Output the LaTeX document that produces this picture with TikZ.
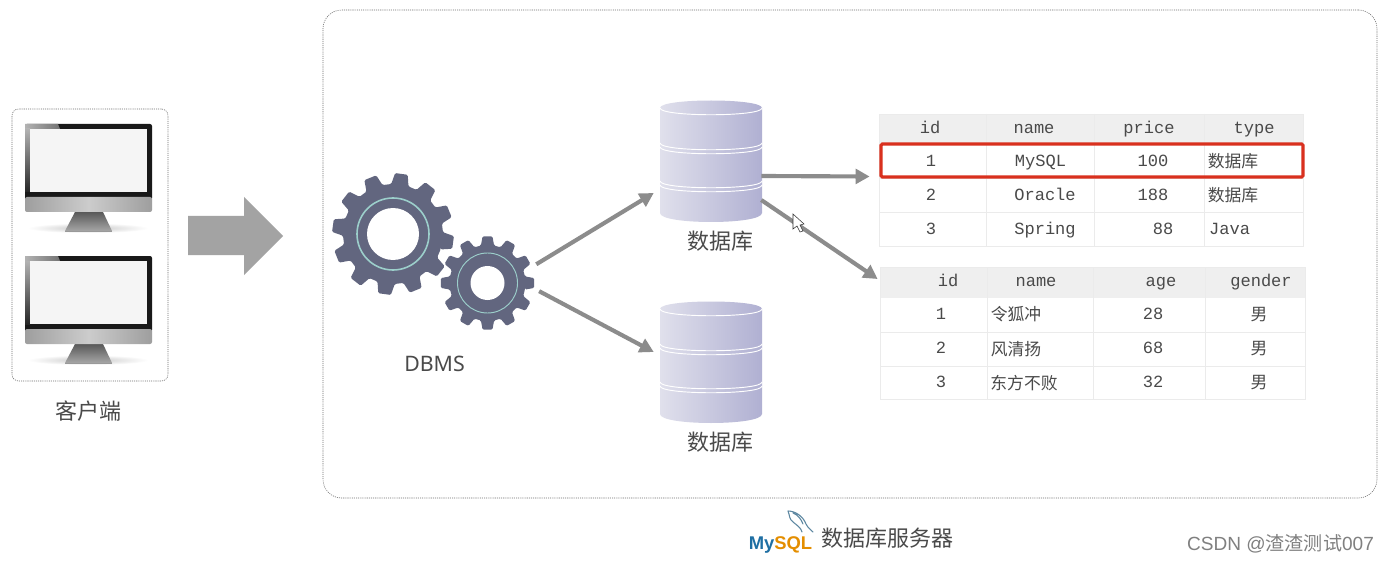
\documentclass[tikz,border=0pt]{standalone}
\usepackage{fontspec}
\usepackage[dvipsnames]{xcolor}
\usetikzlibrary{arrows.meta,fit,shapes.geometric}
\setmainfont{Noto Sans}
\setmonofont{Liberation Mono}
\newfontfamily\cjk{Noto Sans CJK SC}
\newfontfamily\logofont{Liberation Sans}
\definecolor{gearcolor}{HTML}{62667F}
\definecolor{ringcolor}{HTML}{9CCFCB}
\definecolor{linkcolor}{HTML}{8C8C8C}
\definecolor{textcolor}{HTML}{4A4A4A}
\definecolor{boxcolor}{HTML}{6E6E6E}
\definecolor{gridcolor}{HTML}{EBEBEB}
\definecolor{headcolor}{HTML}{EFEFEF}
\definecolor{hotcolor}{HTML}{D9301E}
\definecolor{dolphincolor}{HTML}{5D87A1}
\definecolor{sqlcolor}{HTML}{E48E00}
\definecolor{mycolor}{HTML}{1F6FA3}
\definecolor{dbleft}{HTML}{E0E0EC}
\definecolor{dbright}{HTML}{B0B0D2}
\tikzset{
    link/.style={linkcolor, line width=3.1pt, -{Triangle[length=10.5pt,width=11pt]}},
    dotbox/.style={draw=boxcolor, dash pattern=on 0.8pt off 0.8pt, line width=0.45pt, inner sep=0pt},
    ghost/.style={inner sep=0pt},
    tablebox/.style={draw=gridcolor, line width=0.6pt, inner sep=0pt},
    label/.style={text=textcolor, font=\cjk\fontsize{16.5}{18}\selectfont, inner sep=0pt},
    mono/.style={text=textcolor, font=\ttfamily\fontsize{12.8}{14}\selectfont, inner sep=0pt, text height=8pt, text depth=1pt},
    hanzi/.style={text=textcolor, font=\cjk\fontsize{12.6}{14}\selectfont, inner sep=0pt},
}
% one gear: centre x, centre y, outer radius, root radius, first tooth angle
\newcommand{\gearteeth}[5]{
    \fill[gearcolor, rounded corners=1pt] ({#1+#4*cos(#5-10)},{#2-#4*sin(#5-10)}) \foreach \a in {0,30,...,330} {
        -- ({#1+#3*cos(\a+#5-6)},{#2-#3*sin(\a+#5-6)})
        -- ({#1+#3*cos(\a+#5+6)},{#2-#3*sin(\a+#5+6)})
        -- ({#1+#4*cos(\a+#5+10)},{#2-#4*sin(\a+#5+10)})
        -- ({#1+#4*cos(\a+#5+20)},{#2-#4*sin(\a+#5+20)})
    } -- cycle;
}
\begin{document}
\begin{tikzpicture}[x=0.75pt,y=-0.75pt]
    \useasboundingbox[fill=white] (0,0) rectangle (1389,563);

    % Client side
    \node[fit={(12,109) (168,381)}, dotbox, rounded corners=5pt] (clientbox) {};
    \foreach \dy in {0,132} {
        \shade[inner color=black!22, outer color=white] (88,{228+\dy}) ellipse (60 and 5);
        \shade[top color=black!65, bottom color=black!35] (75,{212+\dy}) -- (103,{212+\dy}) -- (112,{231+\dy}) -- (65,{231+\dy}) -- cycle;
        \fill[black!40] (65,{231+\dy}) rectangle (112,{232+\dy});
        \fill[black!90, rounded corners=1.5pt] (25,{124+\dy}) rectangle (152,{200+\dy});
        \shade[left color=black!30, right color=black!55] (25,{124+\dy}) -- (58,{124+\dy}) -- (60,{129+\dy}) -- (25,{129+\dy}) -- cycle;
        \shade[top color=black!30, bottom color=black!85] (25,{129+\dy}) rectangle (30,{192+\dy});
        \fill[black!4] (30,{129+\dy}) rectangle (147,{192+\dy});
        \shade[left color=black!38, right color=black!38, middle color=black!20, rounded corners=1.5pt] (25,{197+\dy}) rectangle (152,{212+\dy});
    }
    \node[label] (clientlabel) at (88,411) {客户端};
    \fill[black!36] (188,216) -- (244,216) -- (244,197) -- (283,236) -- (244,275) -- (244,255) -- (188,255) -- cycle;

    % Server side
    \node[fit={(323,10) (1377,498)}, dotbox, rounded corners=14pt] (serverbox) {};

    % Gears
    \gearteeth{393}{234}{61}{50}{-8}
    \gearteeth{487.5}{283}{47}{38}{0}
    \fill[white] (393,234) circle (26);
    \draw[ringcolor, line width=1.2pt] (393,234) circle (36);
    \fill[white] (487.5,283) circle (17);
    \draw[ringcolor, line width=0.7pt] (487.5,283) circle (30);
    \node[circle, ghost, minimum size=78pt] (gearsmall) at (487.5,283) {};
    \node[text=textcolor, font=\fontsize{16}{18}\selectfont, inner sep=0pt] (dbmslabel) at (434.5,364) {DBMS};

    % Databases
    \foreach \dy/\name in {0/dbtop,201/dbbottom} {
        \shade[left color=dbleft, right color=dbright] (660,{108+\dy})
            .. controls (660,{98+\dy}) and (762,{98+\dy}) .. (762,{108+\dy})
            -- (762,{213+\dy}) .. controls (762,{225+\dy}) and (660,{225+\dy}) .. (660,{213+\dy}) -- cycle;
        \foreach \ly in {108,143,147,181,185} {
            \draw[white, line width=0.7pt] (660,{\ly+\dy}) .. controls (660,{\ly+9+\dy}) and (762,{\ly+9+\dy}) .. (762,{\ly+\dy});
        }
        \node[fit={(660,{100+\dy}) (762,{222+\dy})}, ghost] (\name) {};
        \node[label] (\name label) at (720,{241+\dy}) {数据库};
    }

    % First table
    \fill[headcolor] (879,114) rectangle (1303,143);
    \foreach \x in {986,1094,1204} {
        \draw[gridcolor, line width=0.6pt] (\x,114) -- (\x,246);
    }
    \foreach \y in {178,212} {
        \draw[gridcolor, line width=0.6pt] (879,\y) -- (1303,\y);
    }
    \node[fit={(879,114) (1303,246)}, tablebox] (tabgoods) {};
    \foreach \x/\y/\txt [count=\n] in {930/128.5/id,1034/128.5/name,1149/128.5/price,1254/128.5/type,
        931/162/1,1040.5/162/MySQL,1153/162/100,
        931/196/2,1045/196/Oracle,1153/196/188,
        931/229.5/3,1045/229.5/Spring,1163/229.5/88,1229.7/229.5/Java} {
        \node[mono] (goods\n) at (\x,\y) {\txt};
    }
    \node[hanzi] (goodstype1) at (1233,161) {数据库};
    \node[hanzi] (goodstype2) at (1233,195) {数据库};
    \node[fit={(881,144) (1303,177)}, draw=hotcolor, line width=2.3pt, rounded corners=1pt, inner sep=0pt] (hotrow) {};

    % Second table
    \fill[headcolor] (880,267) rectangle (1305,298);
    \foreach \x in {987,1093,1205} {
        \draw[gridcolor, line width=0.6pt] (\x,267) -- (\x,399);
    }
    \foreach \y in {332,366} {
        \draw[gridcolor, line width=0.6pt] (880,\y) -- (1305,\y);
    }
    \node[fit={(880,267) (1305,399)}, tablebox] (tabpeople) {};
    \foreach \x/\y/\txt [count=\n] in {948/282/id,1036/282/name,1161/282/age,1261/282/gender,
        941/314.5/1,1153/315/28,941/349/2,1153/349/68,941/383/3,1153/383/32} {
        \node[mono] (people\n) at (\x,\y) {\txt};
    }
    \foreach \x/\y/\txt [count=\n] in {1016/314.5/令狐冲,1016/349/风清扬,1024/383/东方不败,
        1259/314.5/男,1259/349/男,1259/383/男} {
        \node[hanzi] (peoplecn\n) at (\x,\y) {\txt};
    }

    % Links
    \draw[link] (gearsmall.21) -- ([shift={(-6,32)}]dbtop.west);
    \draw[link] (gearsmall.-9) -- ([shift={(-6,-10)}]dbbottom.west);
    \draw[link] ([shift={(-1,15)}]dbtop.east) -- ([shift={(-9,-3.5)}]tabgoods.west);
    \draw[link] ([shift={(-1,39)}]dbtop.east) -- ([shift={(-2,-54)}]tabpeople.west);

    % Mouse pointer
    \draw[fill=white, draw=black!80, line width=0.4pt] (793,214) -- (793,229) -- (797,226) -- (800,232) -- (803,231) -- (800,225) -- (804,224) -- cycle;

    % Logo and caption
    \node[font=\logofont\bfseries\fontsize{13.8}{16}\selectfont, inner sep=0pt] (logotext) at (780.5,545)
        {\textcolor{mycolor}{My}\textcolor{sqlcolor}{SQL}};
    \draw[dolphincolor, line width=0.8pt, line cap=round] (788,511)
        .. controls (795,511) and (803,516) .. (806,524) .. controls (808,528) and (811,530) .. (813,532)
        (788,511) .. controls (790,516) and (789,519) .. (793,522) .. controls (798,526) and (801,528) .. (802,532)
        (793,513) .. controls (798,515) and (801,519) .. (803,524);
    \node[text=textcolor, font=\cjk\fontsize{16.5}{18}\selectfont, inner sep=0pt] (servertitle) at (887.5,538) {数据库服务器};
    \node[text=black!50, font=\cjk\fontsize{14.3}{16}\selectfont, inner sep=0pt] (watermark) at (1280.5,544) {{\logofont CSDN @}渣渣测试{\logofont 007}};
\end{tikzpicture}
\end{document}
